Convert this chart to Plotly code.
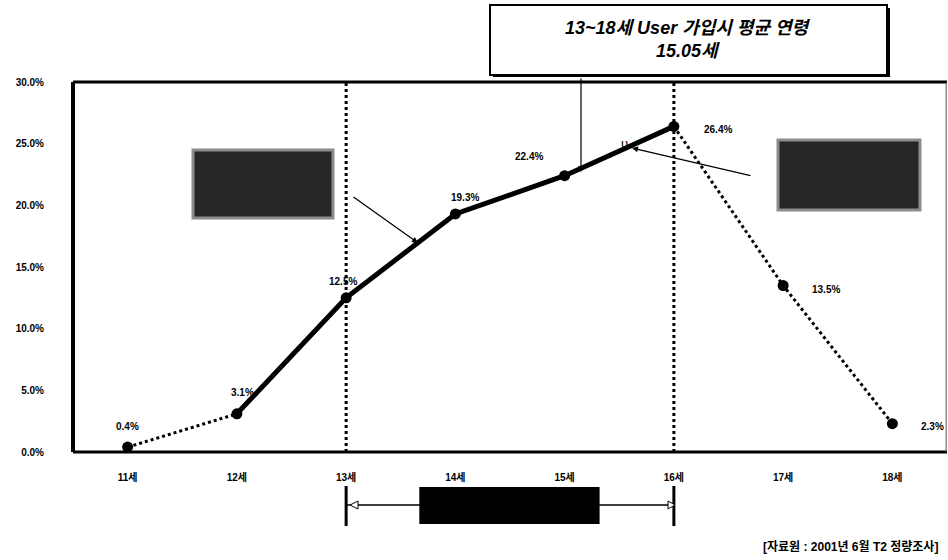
import plotly.graph_objects as go

ages = ["11세", "12세", "13세", "14세", "15세", "16세", "17세", "18세"]
shares = [0.4, 3.1, 12.5, 19.3, 22.4, 26.4, 13.5, 2.3]
label_shift = [(0, 21), (6, 21), (-3, 16), (10, 16), (-36, 19), (44, -3), (43, -4), (40, -3)]
y_ticks = [0, 5, 10, 15, 20, 25, 30]
mean_lines = ["13~18세 User 가입시 평균 연령", "15.05세"]
source_text = "[자료원 : 2001년 6월 T2 정량조사]"

FONT = "Liberation Sans, Noto Sans CJK KR, sans-serif"

fig = go.Figure()
# dotted 11-12
fig.add_trace(go.Scatter(x=ages[0:2], y=shares[0:2], mode="lines",
                         line=dict(color="black", width=3, dash="dot"), hoverinfo="skip"))
# solid 12-16
fig.add_trace(go.Scatter(x=ages[1:6], y=shares[1:6], mode="lines",
                         line=dict(color="black", width=5), hoverinfo="skip"))
# dotted 16-18
fig.add_trace(go.Scatter(x=ages[5:8], y=shares[5:8], mode="lines",
                         line=dict(color="black", width=3, dash="dot"), hoverinfo="skip"))
# markers
fig.add_trace(go.Scatter(x=ages, y=shares, mode="markers",
                         marker=dict(color="black", size=11)))

annotations = []
for a, v, (dx, dy) in zip(ages, shares, label_shift):
    annotations.append(dict(x=a, y=v, text=f"{v:.1f}%", showarrow=False,
                            xshift=dx, yshift=dy,
                            font=dict(size=10, color="black", family=FONT, weight="bold")))

W = 874.0
H = 370.0
def px(x):
    return (x - 73) / W
def py(y):
    return (452 - y) / H

shapes = []
# plot frame
shapes.append(dict(type="line", xref="paper", yref="paper", x0=0, x1=0, y0=0, y1=1,
                   line=dict(color="black", width=4)))
shapes.append(dict(type="line", xref="paper", yref="paper", x0=0, x1=1, y0=1, y1=1,
                   line=dict(color="black", width=3)))
shapes.append(dict(type="line", xref="paper", yref="paper", x0=0, x1=1, y0=0, y1=0,
                   line=dict(color="black", width=3)))
shapes.append(dict(type="line", xref="paper", yref="paper", x0=0.999, x1=0.999, y0=0, y1=1,
                   line=dict(color="#555", width=1)))
# vertical dotted lines at 13 and 16
for idx in (2, 5):
    shapes.append(dict(type="line", xref="x", yref="paper", x0=idx, x1=idx, y0=0, y1=1,
                       line=dict(color="black", width=3, dash="dot")))
# mean box with shadow
shapes.append(dict(type="rect", xref="paper", yref="paper", x0=px(493), x1=px(890),
                   y0=py(77), y1=py(8), line=dict(width=0), fillcolor="black", layer="above"))
shapes.append(dict(type="rect", xref="paper", yref="paper", x0=px(490), x1=px(887),
                   y0=py(75), y1=py(5), line=dict(color="black", width=2), fillcolor="white", layer="above"))
# gray boxes
shapes.append(dict(type="rect", xref="paper", yref="paper", x0=px(193), x1=px(333),
                   y0=py(218), y1=py(150), line=dict(color="#8c8c8c", width=3), fillcolor="#262626"))
shapes.append(dict(type="rect", xref="paper", yref="paper", x0=px(778), x1=px(920),
                   y0=py(210), y1=py(140), line=dict(color="#8c8c8c", width=3), fillcolor="#262626"))
# range box below axis
shapes.append(dict(type="line", xref="x", yref="paper", x0=2, x1=5, y0=py(505), y1=py(505),
                   line=dict(color="black", width=1.5)))
for idx in (2, 5):
    shapes.append(dict(type="line", xref="x", yref="paper", x0=idx, x1=idx, y0=py(526), y1=py(486),
                       line=dict(color="black", width=3)))
shapes.append(dict(type="rect", xref="x", yref="paper", x0=2.67, x1=4.32, y0=py(524), y1=py(487),
                   line=dict(width=0), fillcolor="black"))
# open arrowheads on range line
shapes.append(dict(type="path", xref="paper", yref="paper",
                   path=f"M {px(350)} {py(505)} L {px(358)} {py(501)} L {px(358)} {py(509)} Z",
                   line=dict(color="black", width=1), fillcolor="white"))
shapes.append(dict(type="path", xref="paper", yref="paper",
                   path=f"M {px(675)} {py(505)} L {px(668)} {py(501)} L {px(668)} {py(509)} Z",
                   line=dict(color="black", width=1), fillcolor="white"))

annotations += [
    dict(xref="paper", yref="paper", x=px(688), y=py(28), text=mean_lines[0], showarrow=False,
         xanchor="center", yanchor="middle",
         font=dict(size=18, color="black", family=FONT, weight="bold", style="italic")),
    dict(xref="paper", yref="paper", x=px(688), y=py(51), text=mean_lines[1], showarrow=False,
         xanchor="center", yanchor="middle",
         font=dict(size=18, color="black", family=FONT, weight="bold", style="italic")),
    # arrow from mean box
    dict(xref="paper", yref="paper", x=px(581), y=py(172), ax=0, ay=-95, text="",
         showarrow=True, arrowhead=2, arrowsize=1, arrowwidth=1.2, arrowcolor="black"),
    # arrow from left box
    dict(xref="paper", yref="paper", x=px(418), y=py(243), ax=-66, ay=-47, text="",
         showarrow=True, arrowhead=2, arrowsize=1, arrowwidth=1.2, arrowcolor="black"),
    # arrow from right box
    dict(xref="paper", yref="paper", x=px(632), y=py(148), ax=120, ay=28, text="",
         showarrow=True, arrowhead=2, arrowsize=1, arrowwidth=1.2, arrowcolor="black"),
    dict(xref="paper", yref="paper", x=px(624), y=py(143), text="υ", showarrow=False,
         xanchor="center", yanchor="middle",
         font=dict(size=13, color="black", family=FONT)),
    dict(xref="paper", yref="paper", x=px(940), y=py(546), text=source_text, showarrow=False,
         xanchor="right", yanchor="middle",
         font=dict(size=12, color="black", family=FONT, weight="bold")),
]

fig.update_layout(
    width=948, height=560,
    margin=dict(l=73, r=1, t=82, b=108),
    paper_bgcolor="white", plot_bgcolor="white",
    showlegend=False,
    shapes=shapes, annotations=annotations,
    font=dict(family=FONT, color="black"),
    xaxis=dict(type="category", range=[-0.5, 7.5], showgrid=False, zeroline=False,
               showline=False, ticks="", ticklabelstandoff=18,
               tickfont=dict(size=10, family=FONT, weight="bold"), fixedrange=True),
    yaxis=dict(range=[0, 30], tickvals=y_ticks, ticktext=[f"{t:.1f}%" for t in y_ticks],
               showgrid=False, zeroline=False, showline=False, ticks="",
               ticklabelstandoff=28, tickfont=dict(size=10, family=FONT, weight="bold"),
               fixedrange=True),
)

fig.write_html("out.html", config={"displayModeBar": False},
               post_script="document.body.style.margin='0px';document.body.style.overflow='hidden';")
